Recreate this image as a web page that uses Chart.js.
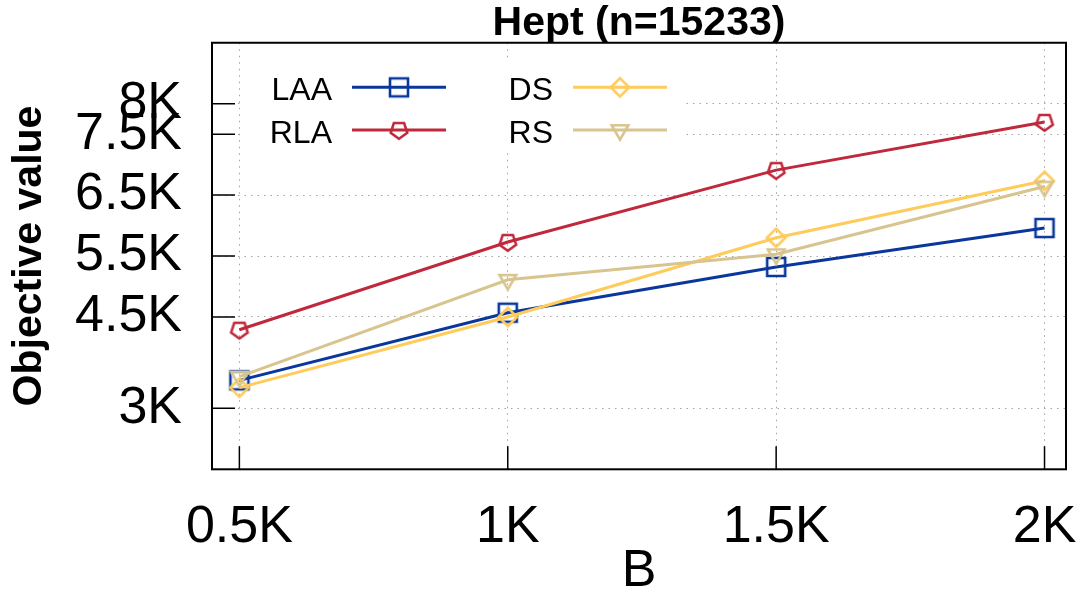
<!DOCTYPE html>
<html>
<head>
<meta charset="utf-8">
<title>Hept (n=15233)</title>
<script src="https://cdn.jsdelivr.net/npm/chart.js@4.4.1/dist/chart.umd.min.js"></script>
<style>
  html, body { margin: 0; padding: 0; background: #ffffff; }
  #wrap { width: 1087px; height: 599px; position: relative; }
</style>
</head>
<body>
<div id="wrap"><canvas id="chart"></canvas></div>
<script>
// Budget B on the x axis
const budgets = [500, 1000, 1500, 2000];
const xTickLabels = ['0.5K', '1K', '1.5K', '2K'];

// Objective value ticks
const yTickValues = [3000, 4500, 5500, 6500, 7500, 8000];
const yTickLabels = ['3K', '4.5K', '5.5K', '6.5K', '7.5K', '8K'];

// Objective value per method
const seriesNames = ['LAA', 'RLA', 'DS', 'RS'];
const laaValues = [3460, 4570, 5320, 5960];
const rlaValues = [4290, 5730, 6910, 7700];
const dsValues  = [3340, 4500, 5800, 6735];
const rsValues  = [3520, 5110, 5530, 6640];

const FONT = "'Liberation Sans', Arial, Helvetica, sans-serif";
Chart.defaults.font.family = FONT;
Chart.defaults.color = '#000000';

// Open (unfilled) gnuplot-like point symbols
function traceMarker(g, kind, x, y) {
  g.beginPath();
  if (kind === 'square') {
    g.rect(x - 9, y - 9, 18, 18);
  } else if (kind === 'pentagon') {
    const R = 8.7;
    for (let i = 0; i < 5; i++) {
      const a = Math.PI / 2 + i * 2 * Math.PI / 5;
      const px = x + R * Math.cos(a), py = y + R * Math.sin(a);
      if (i === 0) g.moveTo(px, py); else g.lineTo(px, py);
    }
    g.closePath();
  } else if (kind === 'diamond') {
    const r = 9.2;
    g.moveTo(x, y - r); g.lineTo(x + r, y); g.lineTo(x, y + r); g.lineTo(x - r, y);
    g.closePath();
  } else if (kind === 'triangleDown') {
    const R = 9.6, c = Math.cos(Math.PI / 6);
    g.moveTo(x, y + R); g.lineTo(x - R * c, y - R / 2); g.lineTo(x + R * c, y - R / 2);
    g.closePath();
  }
}
function makeMarker(kind, color) {
  const c = document.createElement('canvas');
  c.width = 32; c.height = 32;
  const g = c.getContext('2d');
  g.strokeStyle = color;
  g.lineWidth = 2.6;
  g.lineJoin = 'miter';
  traceMarker(g, kind, 16, 16);
  g.stroke();
  return c;
}

const colors = ['#0a379c', '#c0283c', '#ffcb5a', '#d8c48e'];
const markers = ['square', 'pentagon', 'diamond', 'triangleDown'];
const valueSets = [laaValues, rlaValues, dsValues, rsValues];

const datasets = seriesNames.map((name, i) => ({
  label: name,
  data: budgets.map((b, j) => ({ x: b, y: valueSets[i][j] })),
  borderColor: colors[i],
  backgroundColor: colors[i],
  borderWidth: 3,
  borderJoinStyle: 'miter',
  borderCapStyle: 'butt',
  tension: 0,
  fill: false,
  pointStyle: makeMarker(markers[i], colors[i]),
  pointRadius: 10,
  pointHoverRadius: 10,
  // later series are drawn on top
  order: seriesNames.length - i
}));

// Frame, inward tick marks and the in-plot key
const framePlugin = {
  id: 'frameAndKey',
  afterDatasetsDraw(chart) {
    const { ctx, chartArea: a, scales: { x, y } } = chart;
    ctx.save();

    // inward major ticks
    ctx.strokeStyle = '#000000';
    ctx.lineWidth = 1.5;
    ctx.beginPath();
    yTickValues.forEach(v => {
      const py = y.getPixelForValue(v);
      ctx.moveTo(a.left, py); ctx.lineTo(a.left + 23, py);
    });
    budgets.forEach(v => {
      const px = x.getPixelForValue(v);
      ctx.moveTo(px, a.bottom); ctx.lineTo(px, a.bottom - 23);
    });
    ctx.stroke();

    // border box
    ctx.lineWidth = 2;
    ctx.strokeRect(a.left, a.top, a.right - a.left, a.bottom - a.top);

    // key: opaque background, label then line sample with symbol
    ctx.fillStyle = '#ffffff';
    ctx.fillRect(a.left + 29, a.top + 18, 445, 90);
    ctx.font = '32px ' + FONT;
    ctx.textAlign = 'right';
    ctx.textBaseline = 'alphabetic';
    chart.data.datasets.forEach((ds, i) => {
      const col = Math.floor(i / 2), row = i % 2;
      const textRight = a.left + 120 + col * 221;
      const lineY = a.top + 44.6 + row * 42.7;
      const x0 = a.left + 140 + col * 221, x1 = x0 + 94;
      ctx.fillStyle = '#000000';
      ctx.fillText(ds.label, textRight, lineY + 13);
      ctx.strokeStyle = ds.borderColor;
      ctx.lineWidth = 3;
      ctx.beginPath(); ctx.moveTo(x0, lineY); ctx.lineTo(x1, lineY); ctx.stroke();
      const m = ds.pointStyle;
      ctx.drawImage(m, (x0 + x1) / 2 - m.width / 2, lineY - m.height / 2);
    });
    ctx.restore();
  }
};

new Chart(document.getElementById('chart'), {
  type: 'line',
  data: { datasets },
  options: {
    responsive: true,
    maintainAspectRatio: false,
    devicePixelRatio: 1,
    animation: false,
    events: [],
    layout: { padding: { left: 0, right: 21, top: 0, bottom: 0 } },
    plugins: {
      legend: { display: false },
      tooltip: { enabled: false },
      title: {
        display: true,
        fullSize: false,
        text: 'Hept (n=15233)',
        color: '#000000',
        font: { family: FONT, size: 41, weight: 'bold', lineHeight: 0.93 },
        padding: { top: 4.63, bottom: 0 }
      }
    },
    scales: {
      x: {
        type: 'linear',
        min: 449,
        max: 2040,
        afterBuildTicks: s => { s.ticks = budgets.map(v => ({ value: v })); },
        afterFit: s => { s.height = 129.7; s.paddingLeft = 0; s.paddingRight = 0; },
        ticks: {
          autoSkip: false,
          maxRotation: 0,
          padding: 26.7,
          color: '#000000',
          font: { family: FONT, size: 52 },
          callback: (v, i) => xTickLabels[i]
        },
        grid: { color: '#a3a3a3', lineWidth: 1, drawTicks: false },
        border: { display: false, dash: [1.5, 5] },
        title: {
          display: true,
          text: 'B',
          color: '#000000',
          font: { family: FONT, size: 52, lineHeight: 1 },
          padding: { top: 0, bottom: 1 }
        }
      },
      y: {
        type: 'linear',
        min: 2000,
        max: 9000,
        afterBuildTicks: s => { s.ticks = yTickValues.map(v => ({ value: v })); },
        afterFit: s => { s.width = 212; s.paddingTop = 0; s.paddingBottom = 0; },
        ticks: {
          autoSkip: false,
          padding: 30,
          color: '#000000',
          font: { family: FONT, size: 52 },
          callback: (v, i) => yTickLabels[i]
        },
        grid: { color: '#a3a3a3', lineWidth: 1, drawTicks: false },
        border: { display: false, dash: [1.5, 5] },
        title: {
          display: true,
          text: 'Objective value',
          color: '#000000',
          font: { family: FONT, size: 41, weight: 'bold', lineHeight: 1 },
          padding: { top: 9.5, bottom: 0 }
        }
      }
    }
  },
  plugins: [framePlugin]
});
</script>
</body>
</html>
